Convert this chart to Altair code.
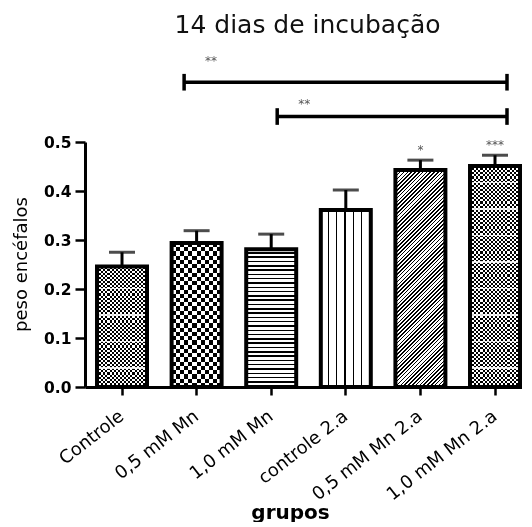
import altair as alt
import pandas as pd

# ---------------- data ----------------
groups = ["Controle", "0,5 mM Mn", "1,0 mM Mn", "controle 2.a", "0,5 mM Mn 2.a", "1,0 mM Mn 2.a"]
means = [0.246, 0.294, 0.281, 0.361, 0.443, 0.451]
sems = [0.029, 0.025, 0.031, 0.041, 0.020, 0.022]
stars = ["", "", "", "", "*", "***"]

bracket_from = ["0,5 mM Mn", "1,0 mM Mn"]
bracket_to = ["1,0 mM Mn 2.a", "1,0 mM Mn 2.a"]
bracket_y = [0.622, 0.552]
bracket_label = ["**", "**"]
bracket_label_y = [0.665, 0.578]

y_ticks = [0.0, 0.1, 0.2, 0.3, 0.4, 0.5]

# ---------------- layout / style ----------------
PLOT_W, PLOT_H = 437, 245
Y_MAX = 0.5
FONT = "DejaVu Sans"
P_IN, P_OUT = 0.33, 0.094
BAND_W = PLOT_W / (len(groups) - P_IN + 2 * P_OUT) * (1 - P_IN)

df = pd.DataFrame({"grp": groups, "val": means, "sem": sems, "star": stars})
df["top"] = df["val"] + df["sem"]

xscale = alt.Scale(domain=groups, paddingInner=P_IN, paddingOuter=P_OUT, align=0.857)
yscale = alt.Scale(domain=[0, Y_MAX], nice=False, zero=True)

x_axis = alt.Axis(title="grupos", labelAngle=322, labelAlign="right", labelBaseline="middle",
                  labelPadding=19, labelOverlap=False, titleX=205, titleY=131,
                  titleAlign="center", titleBaseline="alphabetic")
y_axis = alt.Axis(title="peso encéfalos", values=y_ticks, format=".1f", tickSize=10,
                  labelPadding=4, titleX=-64, titleY=122, titleAngle=270,
                  titleAlign="center", titleBaseline="middle")

X = alt.X("grp:N", sort=groups, scale=xscale, axis=x_axis)


def Yf(field):
    return alt.Y(field, scale=yscale, axis=y_axis)


def stripe_stops(n, duty, on="black", off="white"):
    st = []
    for i in range(n):
        a = i / n
        b = (i + 1 - duty) / n
        c = (i + 1) / n
        st += [{"offset": a, "color": off}, {"offset": b, "color": off},
               {"offset": b, "color": on}, {"offset": c, "color": on}]
    return st


def lin(stops, x1=0, y1=0, x2=1, y2=0):
    return {"gradient": "linear", "x1": x1, "y1": y1, "x2": x2, "y2": y2, "stops": stops}


def white_lines(h_px, first=19.0, period=26.5, width=1.6):
    clear = "rgba(255,255,255,0)"
    st = [{"offset": 0, "color": clear}]
    d = first
    pos = []
    while d < h_px - 6:
        pos.append(d)
        d += period
    for d in sorted(pos, reverse=True):
        a = max(0.0, (h_px - d - width / 2) / h_px)
        b = min(1.0, (h_px - d + width / 2) / h_px)
        st += [{"offset": a, "color": clear}, {"offset": a, "color": "rgba(255,255,255,0.85)"},
               {"offset": b, "color": "rgba(255,255,255,0.85)"}, {"offset": b, "color": clear}]
    st.append({"offset": 1, "color": clear})
    return lin(st, 0, 0, 0, 1)


def bar(g, fill, blend=None):
    kw = {"fill": fill, "strokeWidth": 0}
    if blend:
        kw["blend"] = blend
    return alt.Chart(df).transform_filter(alt.datum.grp == g).mark_bar(**kw).encode(x=X, y=Yf("val:Q"))


layers = []
for i, g in enumerate(groups):
    h_px = means[i] / Y_MAX * PLOT_H
    if g in ("Controle", "1,0 mM Mn 2.a"):
        layers.append(bar(g, lin(stripe_stops(12, 0.5))))
        layers.append(bar(g, lin(stripe_stops(round(h_px / 4.2), 0.5), 0, 0, 0, 1), blend="difference"))
        layers.append(bar(g, white_lines(h_px)))
    elif g == "0,5 mM Mn":
        layers.append(bar(g, lin(stripe_stops(6, 0.5))))
        layers.append(bar(g, lin(stripe_stops(round(h_px / 8.4), 0.5), 0, 0, 0, 1), blend="difference"))
    elif g == "1,0 mM Mn":
        layers.append(bar(g, lin(stripe_stops(round(h_px / 4.3), 0.35), 0, 0, 0, 1)))
    elif g == "controle 2.a":
        layers.append(bar(g, lin(stripe_stops(6, 0.18))))
    else:
        w, h = BAND_W, h_px
        k = (w + h) / (w * w + h * h)
        layers.append(bar(g, lin(stripe_stops(70, 0.42), 0, 0, w * k, h * k)))

outline = alt.Chart(df).mark_bar(fill="transparent", stroke="black", strokeWidth=4).encode(
    x=X, y=Yf("val:Q"))
whisker = alt.Chart(df).mark_rule(color="black", strokeWidth=3).encode(
    x=X, y=Yf("val:Q"), y2="top:Q")
cap = alt.Chart(df).mark_tick(color="black", size=26, thickness=3).encode(
    x=X, y=Yf("top:Q"))
star_text = alt.Chart(df).mark_text(font=FONT, fontSize=12, color="#555", baseline="bottom", dy=-3).encode(
    x=X, y=Yf("top:Q"), text="star:N")
layers += [outline, whisker, cap, star_text]

band_start = [0.25, 0.62]
band_end = 0.74
for i in range(len(bracket_from)):
    bd = pd.DataFrame({"ga": [bracket_from[i]], "gb": [bracket_to[i]], "by": [bracket_y[i]],
                       "lo": [bracket_y[i] - 0.017], "hi": [bracket_y[i] + 0.017],
                       "lab": [bracket_label[i]], "ly": [bracket_label_y[i]]})
    xa = alt.X("ga:N", sort=groups, scale=xscale, bandPosition=band_start[i])
    xb = alt.X("gb:N", sort=groups, scale=xscale, bandPosition=band_end)
    base = alt.Chart(bd)
    layers.append(base.mark_rule(color="black", strokeWidth=3.5).encode(
        x=xa, x2=alt.X2("gb:N", bandPosition=band_end), y=alt.Y("by:Q", scale=yscale)))
    layers.append(base.mark_rule(color="black", strokeWidth=3.5).encode(
        x=xa, y=alt.Y("lo:Q", scale=yscale), y2="hi:Q"))
    layers.append(base.mark_rule(color="black", strokeWidth=3.5).encode(
        x=xb, y=alt.Y("lo:Q", scale=yscale), y2="hi:Q"))
    layers.append(base.mark_text(font=FONT, fontSize=12, color="#555", dx=27).encode(
        x=xa, y=alt.Y("ly:Q", scale=yscale), text="lab:N"))

chart = alt.layer(*layers).properties(
    width=PLOT_W, height=PLOT_H,
    padding={"left": 4, "top": 5, "right": 0, "bottom": 0},
    title=alt.TitleParams("14 dias de incubação", font=FONT, fontSize=25, fontWeight="normal",
                          color="#111", anchor="middle", offset=17, dx=4),
).configure_view(strokeWidth=0).configure_axis(
    grid=False, domainColor="black", domainWidth=3, tickColor="black", tickWidth=2.5,
    labelFont=FONT, labelFontWeight="bold", labelColor="black", titleFont=FONT,
    titleColor="black",
).configure_axisX(
    tickSize=8, labelFontSize=18, labelFontWeight="normal", titleFontSize=20,
    titleFontWeight="bold",
).configure_axisY(
    labelFontSize=15.5, titleFontSize=18, titleFontWeight="normal",
)

chart.save("out.html", embed_options={"renderer": "svg", "actions": False})
